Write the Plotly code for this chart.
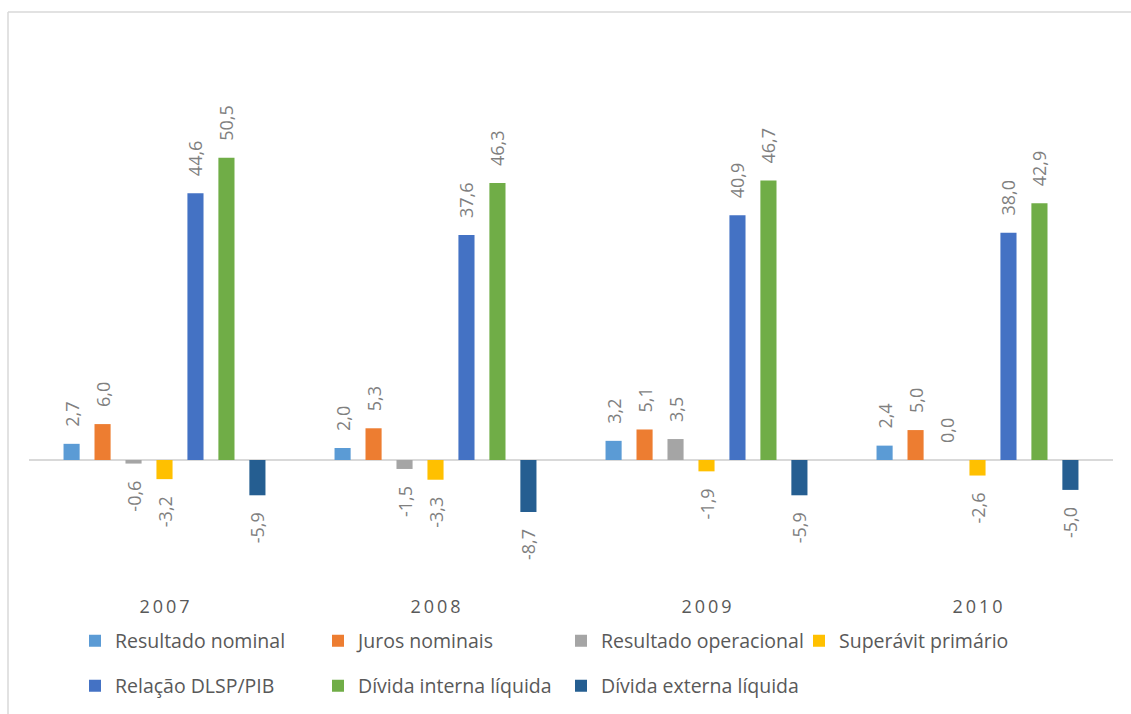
import plotly.graph_objects as go

years = ["2007", "2008", "2009", "2010"]
year_labels = ["2\u20090\u20090\u20097", "2\u20090\u20090\u20098", "2\u20090\u20090\u20099", "2\u20090\u20091\u20090"]

resultado_nominal = [2.7, 2.0, 3.2, 2.4]
juros_nominais = [6.0, 5.3, 5.1, 5.0]
resultado_operacional = [-0.6, -1.5, 3.5, 0.0]
superavit_primario = [-3.2, -3.3, -1.9, -2.6]
relacao_dlsp_pib = [44.6, 37.6, 40.9, 38.0]
divida_interna = [50.5, 46.3, 46.7, 42.9]
divida_externa = [-5.9, -8.7, -5.9, -5.0]

series = [
    ("Resultado nominal", resultado_nominal, "#5B9BD5", "legend"),
    ("Juros nominais", juros_nominais, "#ED7D31", "legend"),
    ("Resultado operacional", resultado_operacional, "#A5A5A5", "legend"),
    ("Superávit primário", superavit_primario, "#FFC000", "legend3"),
    ("Relação DLSP/PIB", relacao_dlsp_pib, "#4472C4", "legend2"),
    ("Dívida interna líquida", divida_interna, "#70AD47", "legend2"),
    ("Dívida externa líquida", divida_externa, "#255E91", "legend2"),
]

FONT = "Open Sans"
pad = "\u00a0\u00a0\u00a0"

fig = go.Figure()
for name, vals, color, leg in series:
    labels = [pad + f"{v:.1f}".replace(".", ",") + pad for v in vals]
    fig.add_trace(go.Bar(
        name=name,
        x=years,
        y=vals,
        marker=dict(color=color, line=dict(width=0)),
        text=labels,
        textposition="outside",
        textangle=-90,
        constraintext="none",
        cliponaxis=False,
        textfont=dict(family=FONT, size=18, color="#7F7F7F"),
        legend=leg,
        hoverinfo="skip",
    ))

legend_style = dict(
    orientation="h",
    xref="container", yref="container",
    x=75 / 1131,
    xanchor="left", yanchor="middle",
    entrywidth=198, entrywidthmode="pixels",
    font=dict(family=FONT, size=19.5, color="#595959"),
    bgcolor="rgba(0,0,0,0)",
)

# plot area: x 29..1113 px, y 40..594 px
fig.update_layout(
    width=1131,
    height=714,
    margin=dict(l=29, r=18, t=40, b=120, autoexpand=False),
    paper_bgcolor="white",
    plot_bgcolor="white",
    barmode="group",
    bargap=0.2,
    bargroupgap=0.48,
    separators=",.",
    font=dict(family=FONT, color="#595959"),
    xaxis=dict(
        tickmode="array",
        tickvals=years,
        ticktext=year_labels,
        tickfont=dict(family=FONT, size=18, color="#595959"),
        showgrid=False,
        showline=False,
        ticks="",
        automargin=False,
    ),
    yaxis=dict(
        range=[-22.4, 70.2],
        showgrid=False,
        showticklabels=False,
        zeroline=True,
        zerolinecolor="#D9D9D9",
        zerolinewidth=2,
        automargin=False,
    ),
    legend=dict(legend_style, y=1 - 641 / 714),
    legend3=dict(legend_style, x=799 / 1131, y=1 - 641 / 714),
    legend2=dict(legend_style, y=1 - 686 / 714),
    shapes=[
        dict(type="line", xref="paper", yref="paper",
             x0=(8 - 29) / 1084, x1=(1140 - 29) / 1084,
             y0=(594 - 12) / 554, y1=(594 - 12) / 554,
             line=dict(color="#D9D9D9", width=1.5)),
        dict(type="line", xref="paper", yref="paper",
             x0=(8 - 29) / 1084, x1=(8 - 29) / 1084,
             y0=(594 - 12) / 554, y1=(594 - 720) / 554,
             line=dict(color="#D9D9D9", width=1.5)),
    ],
)

fig.write_html("out.html")
